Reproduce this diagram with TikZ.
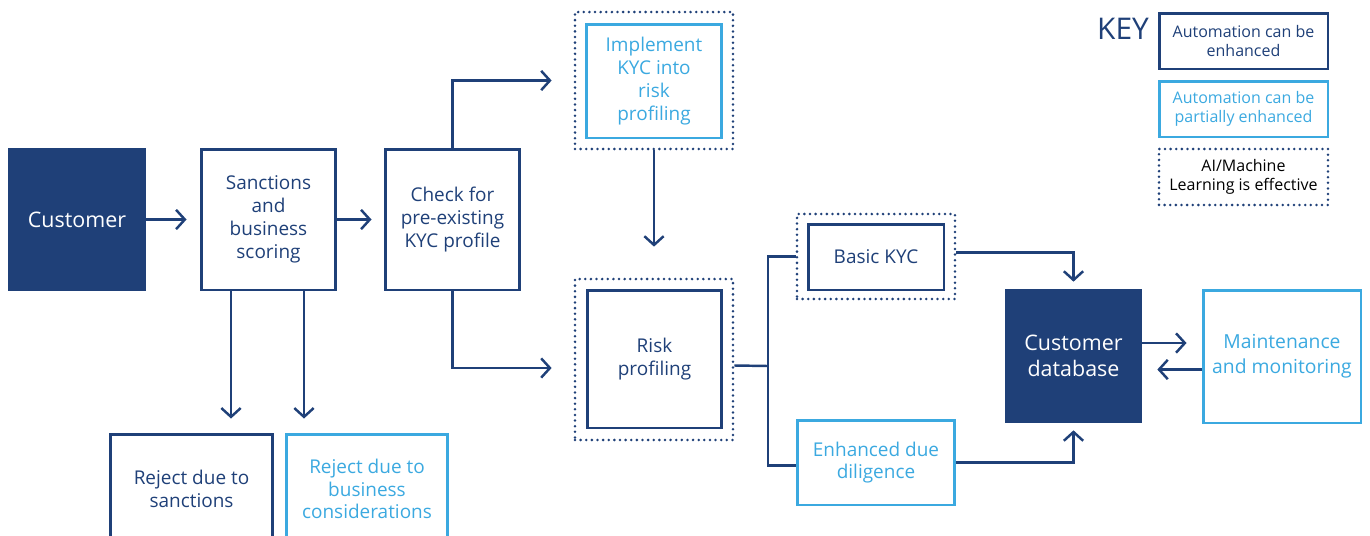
\documentclass[tikz,border=0pt]{standalone}
\usepackage{xcolor}
\usepackage{fontspec}
\setmainfont{Open Sans}
\usepackage{tikz}
\usetikzlibrary{arrows.meta}

\definecolor{navy}{HTML}{1F4078}
\definecolor{sky}{HTML}{3BA9E0}

\begin{document}
\begin{tikzpicture}[x=0.02cm, y=-0.02cm,
    darkbox/.style={draw=navy, line width=1.7pt, text=navy, align=center, inner sep=0pt, font=\fontsize{10.8}{13}\selectfont},
    lightbox/.style={draw=sky, line width=1.7pt, text=sky, align=center, inner sep=0pt, font=\fontsize{10.8}{13}\selectfont},
    fillbox/.style={fill=navy, text=white, align=center, inner sep=0pt, font=\fontsize{12.2}{15}\selectfont},
    aiframe/.style={draw=navy, line width=1.6pt, dash pattern=on 0pt off 3.2pt, line cap=round, inner sep=0pt},
    keybox/.style={align=center, inner sep=0pt, minimum width=3.38cm, minimum height=1.12cm, font=\fontsize{9.1}{11}\selectfont},
    flow/.style={draw=navy, line width=1.4pt, -{Straight Barb[length=5pt, width=11pt]}},
    link/.style={draw=navy, line width=1.4pt}]

    % Area visivel
    \clip (0,0) rectangle (1370,535);

    % Cliente
    \node[fillbox, minimum width=2.76cm, minimum height=2.86cm] (customer) at (77,219.5) {Customer};

    % Sancoes e pontuacao
    \node[darkbox, minimum width=2.7cm, minimum height=2.82cm] (sanctions) at (268.5,219.5) {Sanctions\\and\\business\\scoring};

    % Perfil KYC existente
    \node[darkbox, minimum width=2.7cm, minimum height=2.82cm] (check) at (452.5,219.5) {Check for\\pre-existing\\KYC profile};

    % Implementar KYC
    \node[aiframe, minimum width=3.16cm, minimum height=2.74cm] (implframe) at (654,80.5) {};
    \node[lightbox, minimum width=2.7cm, minimum height=2.28cm] (impl) at (654,81) {Implement\\KYC into\\risk\\profiling};

    % Perfil de risco
    \node[aiframe, minimum width=3.16cm, minimum height=3.22cm] (riskframe) at (654,359.5) {};
    \node[darkbox, minimum width=2.7cm, minimum height=2.76cm] (risk) at (654.5,359) {Risk\\profiling};

    % KYC basico
    \node[aiframe, minimum width=3.16cm, minimum height=1.7cm] (basicframe) at (876,256.5) {};
    \node[darkbox, minimum width=2.72cm, minimum height=1.32cm] (basic) at (876,257) {Basic KYC};

    % Diligencia reforcada
    \node[lightbox, minimum width=3.16cm, minimum height=1.7cm] (edd) at (876,462.5) {Enhanced due\\diligence};

    % Base de clientes
    \node[fillbox, minimum width=2.74cm, minimum height=2.68cm] (db) at (1073.5,356) {Customer\\database};

    % Manutencao
    \node[lightbox, minimum width=3.16cm, minimum height=2.66cm, font=\fontsize{11}{14}\selectfont] (maint) at (1282,356.5) {Maintenance\\and monitoring};

    % Rejeicoes
    \node[darkbox, minimum width=3.26cm, minimum height=2.2cm] (rejsanc) at (191.5,489) {Reject due to\\sanctions};
    \node[lightbox, minimum width=3.24cm, minimum height=2.2cm] (rejbus) at (367,489) {Reject due to\\business\\considerations};

    % Legenda
    \node[text=navy, font=\fontsize{17}{17}\selectfont] (key) at (1123,29) {KEY};
    \node[keybox, draw=navy, line width=1.7pt, text=navy] (key1) at (1243.5,41) {Automation can be\\enhanced};
    \node[keybox, draw=sky, line width=1.7pt, text=sky] (key2) at (1243.5,109) {Automation can be\\partially enhanced};
    \node[keybox, aiframe, text=black] (key3) at (1243.5,177) {AI/Machine\\Learning is effective};

    % Setas principais
    \draw[flow, shorten >=0.26cm] (customer.east) -- (sanctions.west);
    \draw[flow, shorten >=0.24cm] (sanctions.east) -- (check.west);
    \draw[flow, shorten >=0.44cm] (check.north) |- (implframe.west);
    \draw[flow, shorten >=0.44cm] (check.south) |- ([yshift=-0.17cm]riskframe.west);
    \draw[flow, shorten >=0.62cm] (implframe.south) -- (riskframe.north);

    % Setas para rejeicoes
    \draw[flow, shorten >=0.28cm] ([xshift=-0.75cm]sanctions.south) -- ([xshift=-0.75cm]sanctions.south |- rejsanc.north);
    \draw[flow, shorten >=0.28cm] ([xshift=0.71cm]sanctions.south) -- ([xshift=0.71cm]sanctions.south |- rejbus.north);

    % Ramificacao
    \coordinate (split) at (768,366);
    \draw[link] ([yshift=-0.12cm]riskframe.east) -- (split);
    \draw[link] (basicframe.west) -| (split) |- ([yshift=-0.06cm]edd.west);

    % Para a base de clientes
    \draw[flow, shorten >=0.14cm] ([yshift=0.08cm]basicframe.east) -| (db.north);
    \draw[flow, shorten >=0.14cm] (edd.east) -| (db.south);

    % Manutencao e base
    \draw[flow, shorten >=0.3cm] ([yshift=0.26cm]db.east) -- ([yshift=0.26cm]db.east -| maint.west);
    \draw[flow, shorten >=0.3cm] ([yshift=-0.26cm]maint.west) -- ([yshift=-0.26cm]maint.west -| db.east);

\end{tikzpicture}
\end{document}
